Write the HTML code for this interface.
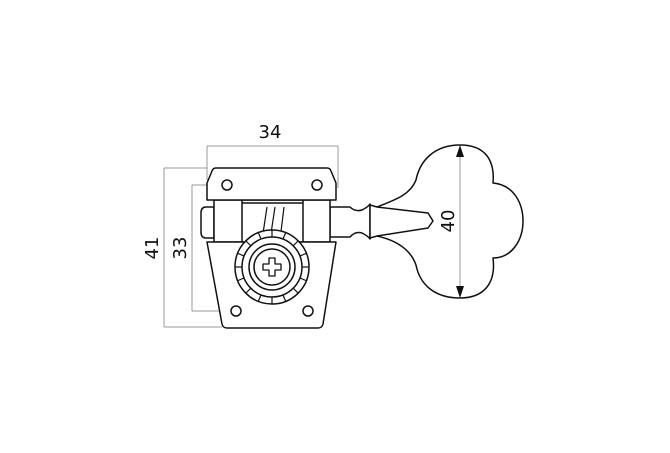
<!DOCTYPE html>
<html><head><meta charset="utf-8"><style>
html,body{margin:0;padding:0;background:#fff;}
svg{display:block;}
text{font-family:"DejaVu Sans","Liberation Sans",sans-serif;font-size:18px;fill:#111;}
</style></head><body>
<svg width="670" height="453" viewBox="0 0 670 453" xmlns="http://www.w3.org/2000/svg">
<g stroke="#999" stroke-width="1" fill="none">
  <line x1="207" y1="146" x2="338" y2="146"/>
  <line x1="207" y1="146" x2="207" y2="180"/>
  <line x1="338" y1="146" x2="338" y2="188"/>
  <line x1="164" y1="168" x2="164" y2="327"/>
  <line x1="164" y1="168" x2="207" y2="168"/>
  <line x1="164" y1="327" x2="222" y2="327"/>
  <line x1="192" y1="185" x2="192" y2="311"/>
  <line x1="192" y1="185" x2="222" y2="185"/>
  <line x1="192" y1="311" x2="232" y2="311"/>
</g>
<text x="270" y="138" text-anchor="middle">34</text>
<text transform="translate(158,248) rotate(-90)" text-anchor="middle">41</text>
<text transform="translate(186,248) rotate(-90)" text-anchor="middle">33</text>

<g stroke="#111" stroke-width="1.5" fill="#fff" stroke-linejoin="round">
  <path d="M214,207 L206,207 Q201,207 201,213 L201,232 Q201,238 206,238 L214,238 Z"/>
  <path d="M330,207 L350,207 Q355,212 362,210 Q368,207 370,204 L370,239 Q368,236 362,233 Q355,231 350,237 L330,237 Z"/>
  <path d="M377,207 C395,200 410,195 416,180 C420,160 435,145 460,145 C485,145 495,160 493,183 C515,185 523,205 523,221 C523,240 512,258 493,258 C496,282 485,298 460,298 C435,298 420,285 416,265 C410,248 395,240 377,236 Z"/>
  <path d="M370,205 L377,207 L428,213 L433,221 L428,228 L377,236 L370,238 Z"/>
  <rect x="214" y="200" width="116" height="42"/>
  <line x1="242" y1="200" x2="242" y2="242"/>
  <line x1="303" y1="200" x2="303" y2="242"/>
  <line x1="242" y1="203" x2="303" y2="203"/>
  <path d="M267,207 L262,240 M275,207 L270,240 M284,207 L280,240" fill="none" stroke-width="1.2"/>
  <path d="M216,168 L327,168 Q330,168 331,171 L336,183 L336,200 L207,200 L207,183 L212,171 Q213,168 216,168 Z"/>
  <circle cx="227" cy="185" r="5"/>
  <circle cx="317" cy="185" r="5"/>
  <path d="M207,242 L336,242 L323,324 Q322,328 318,328 L227,328 Q223,328 222,324 Z"/>
  <circle cx="236" cy="311" r="5"/>
  <circle cx="308" cy="311" r="5"/>
  <circle cx="272" cy="267" r="37"/>
  <circle cx="272" cy="267" r="30"/>
  <g stroke-width="1.2">
    <line x1="272" y1="230" x2="272" y2="237"/><line x1="272" y1="297" x2="272" y2="304"/>
    <line x1="235" y1="267" x2="242" y2="267"/><line x1="302" y1="267" x2="309" y2="267"/>
    <line x1="246" y1="241" x2="251" y2="246"/><line x1="293" y1="288" x2="298" y2="293"/>
    <line x1="298" y1="241" x2="293" y2="246"/><line x1="251" y1="288" x2="246" y2="293"/>
    <line x1="258" y1="232" x2="261" y2="239"/><line x1="283" y1="295" x2="286" y2="302"/>
    <line x1="286" y1="232" x2="283" y2="239"/><line x1="261" y1="295" x2="258" y2="302"/>
    <line x1="237" y1="253" x2="244" y2="256"/><line x1="300" y1="278" x2="307" y2="281"/>
    <line x1="307" y1="253" x2="300" y2="256"/><line x1="244" y1="278" x2="237" y2="281"/>
  </g>
  <circle cx="272" cy="267" r="23"/>
  <circle cx="272" cy="267" r="18"/>
  <path d="M269,258 L275,258 L275,264 L281,264 L281,270 L275,270 L275,276 L269,276 L269,270 L263,270 L263,264 L269,264 Z" stroke-width="1.3"/>
</g>
<line x1="460" y1="150" x2="460" y2="293" stroke="#999" stroke-width="1"/>
<path d="M460,145 L456,157 L464,157 Z M460,298 L456,286 L464,286 Z" fill="#111"/>
<text transform="translate(454,221) rotate(-90)" text-anchor="middle">40</text>
</svg>
</body></html>
